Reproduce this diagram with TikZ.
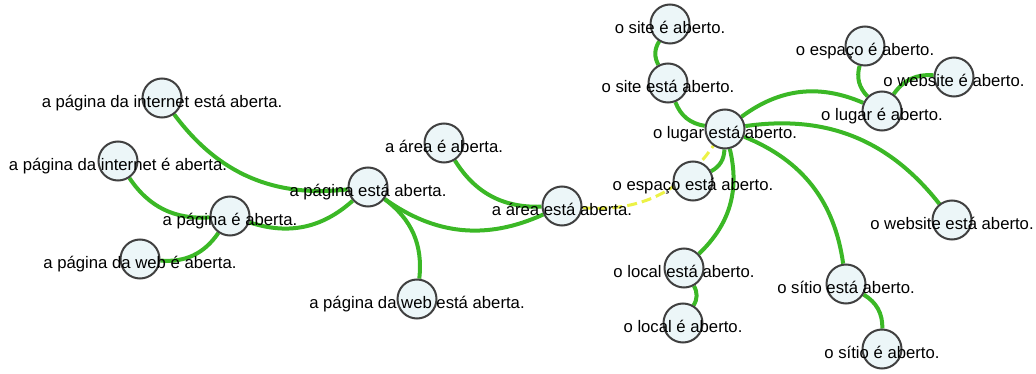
\documentclass[tikz,border=0pt]{standalone}
\usepackage{fontspec}
\setmainfont{Liberation Sans}
\usetikzlibrary{backgrounds}
\definecolor{linkgreen}{RGB}{59,184,38}
\definecolor{linkyellow}{RGB}{236,242,70}
\definecolor{dotfill}{RGB}{236,246,248}
\definecolor{dotline}{RGB}{64,64,64}

\begin{document}
\begin{tikzpicture}[
        x=1pt, y=-1pt,
        dot/.style={circle, draw=dotline, fill=dotfill, line width=2pt, minimum size=39pt, inner sep=0pt},
        lbl/.style={font=\fontsize{16.7}{20}\selectfont, text=black, inner sep=0pt, text height=19pt, text depth=0pt},
        link/.style={draw=linkgreen, line width=4pt, bend right=30},
        weak/.style={draw=linkyellow, line width=3pt, dash pattern=on 10pt off 5pt, bend right=30}
    ]
        \useasboundingbox (0,0) rectangle (1036,374);

        \node[dot, label={[lbl]center:a página da internet está aberta.}] (internetEsta) at (162,98) {};
        \node[dot, label={[lbl]center:a página da internet é aberta.}] (internetE) at (118,161) {};
        \node[dot, label={[lbl]center:a página é aberta.}] (paginaE) at (230,216) {};
        \node[dot, label={[lbl]center:a página da web é aberta.}] (webE) at (140,259) {};
        \node[dot, label={[lbl]center:a página está aberta.}] (paginaEsta) at (368,187) {};
        \node[dot, label={[lbl]center:a área é aberta.}] (areaE) at (444,143) {};
        \node[dot, label={[lbl]center:a área está aberta.}] (areaEsta) at (562,206) {};
        \node[dot, label={[lbl]center:a página da web está aberta.}] (webEsta) at (417,299) {};
        \node[dot, label={[lbl]center:o site é aberto.}] (siteE) at (670,24) {};
        \node[dot, label={[lbl]center:o site está aberto.}] (siteEsta) at (668,83) {};
        \node[dot, label={[lbl]center:o lugar está aberto.}] (lugarEsta) at (725,129) {};
        \node[dot, label={[lbl]center:o espaço está aberto.}] (espacoEsta) at (693,181) {};
        \node[dot, label={[lbl]center:o espaço é aberto.}] (espacoE) at (865,46) {};
        \node[dot, label={[lbl]center:o website é aberto.}] (websiteE) at (954,77) {};
        \node[dot, label={[lbl]center:o lugar é aberto.}] (lugarE) at (882,111) {};
        \node[dot, label={[lbl]center:o website está aberto.}] (websiteEsta) at (952,220) {};
        \node[dot, label={[lbl]center:o local está aberto.}] (localEsta) at (684,268) {};
        \node[dot, label={[lbl]center:o local é aberto.}] (localE) at (683,323) {};
        \node[dot, label={[lbl]center:o sítio está aberto.}] (sitioEsta) at (846,284) {};
        \node[dot, label={[lbl]center:o sítio é aberto.}] (sitioE) at (882,349) {};

        \begin{scope}[on background layer]
            \path[link] (internetEsta) to (paginaEsta);
            \path[link] (internetE) to (paginaE);
            \path[link] (paginaE) to (paginaEsta);
            \path[link] (webE) to (paginaE);
            \path[link] (webEsta) to (paginaEsta);
            \path[link] (paginaEsta) to (areaEsta);
            \path[link] (areaE) to (areaEsta);
            \path[weak] (areaEsta) to (lugarEsta);
            \path[link] (siteE) to (siteEsta);
            \path[link] (siteEsta) to (lugarEsta);
            \path[link] (espacoEsta) to (lugarEsta);
            \path[link] (lugarE) to (lugarEsta);
            \path[link] (espacoE) to (lugarE);
            \path[link] (websiteE) to (lugarE);
            \path[link] (websiteEsta) to (lugarEsta);
            \path[link] (sitioEsta) to (lugarEsta);
            \path[link] (localEsta) to (lugarEsta);
            \path[link] (localE) to (localEsta);
            \path[link] (sitioE) to (sitioEsta);
        \end{scope}
    \end{tikzpicture}
\end{document}
